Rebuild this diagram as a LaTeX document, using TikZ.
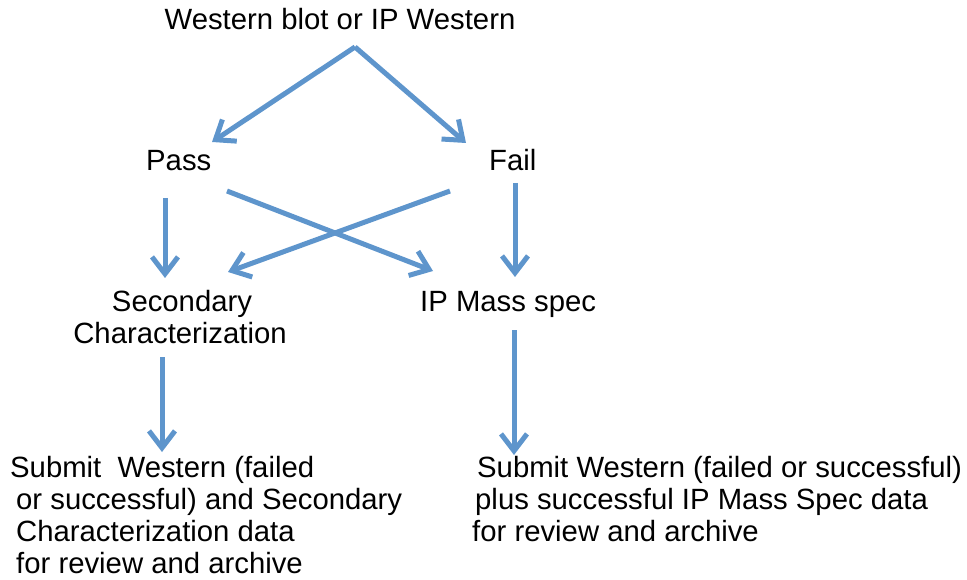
\documentclass[tikz,border=0pt]{standalone}
\usepackage{fontspec}
\setmainfont{Liberation Sans}
\usetikzlibrary{arrows.meta}
\definecolor{flowblue}{RGB}{94,149,204}
\begin{document}
\begin{tikzpicture}[x=1pt,y=-1pt,
  lbl/.style={inner sep=0pt,font=\fontsize{29.3}{32}\selectfont},
  flow/.style={draw=flowblue,line width=5pt,
    -{Straight Barb[length=17pt,width=26pt,line width=5pt]}}]
\useasboundingbox (0,0) rectangle (967,580);

% labels
\node[lbl,anchor=base] (title) at (340,30) {Western blot or IP Western};
\node[lbl,anchor=base west] (pass) at (146,171) {Pass};
\node[lbl,anchor=base west] (fail) at (489,171) {Fail};
\node[lbl,anchor=base] (sec1) at (182,311) {Secondary};
\node[lbl,anchor=base] (sec2) at (180,343) {Characterization};
\node[lbl,anchor=base west] (ipms) at (420,311) {IP Mass spec};

\node[lbl,anchor=base west] (subL1) at (10,477) {Submit\ \ Western (failed};
\node[lbl,anchor=base west] (subL2) at (16,509) {or successful) and Secondary};
\node[lbl,anchor=base west] (subL3) at (16,541) {Characterization data};
\node[lbl,anchor=base west] (subL4) at (16,573) {for review and archive};

\node[lbl,anchor=base west] (subR1) at (477,477) {Submit Western (failed or successful)};
\node[lbl,anchor=base west] (subR2) at (475,509) {plus successful IP Mass Spec data};
\node[lbl,anchor=base west] (subR3) at (472,541) {for review and archive};

% arrow end points
\coordinate (apex) at (355,47);
\coordinate (passIn) at (212,142);
\coordinate (failIn) at (466,143);
\coordinate (passOutA) at (165,198);
\coordinate (passOutB) at (227,191);
\coordinate (failOutA) at (450,191);
\coordinate (failOutB) at (515,183);
\coordinate (secIn) at (165,278);
\coordinate (secInX) at (228,272);
\coordinate (ipIn) at (515,277);
\coordinate (ipInX) at (433,271);
\coordinate (secOut) at (162,357);
\coordinate (subLIn) at (162,452);
\coordinate (ipOut) at (514,330);
\coordinate (subRIn) at (514,455);

% connectors
\draw[flow] (apex) -- (passIn);
\draw[flow] (apex) -- (failIn);
\draw[flow] (passOutA) -- (secIn);
\draw[flow] (passOutB) -- (ipInX);
\draw[flow] (failOutA) -- (secInX);
\draw[flow] (failOutB) -- (ipIn);
\draw[flow] (secOut) -- (subLIn);
\draw[flow] (ipOut) -- (subRIn);
\end{tikzpicture}
\end{document}
